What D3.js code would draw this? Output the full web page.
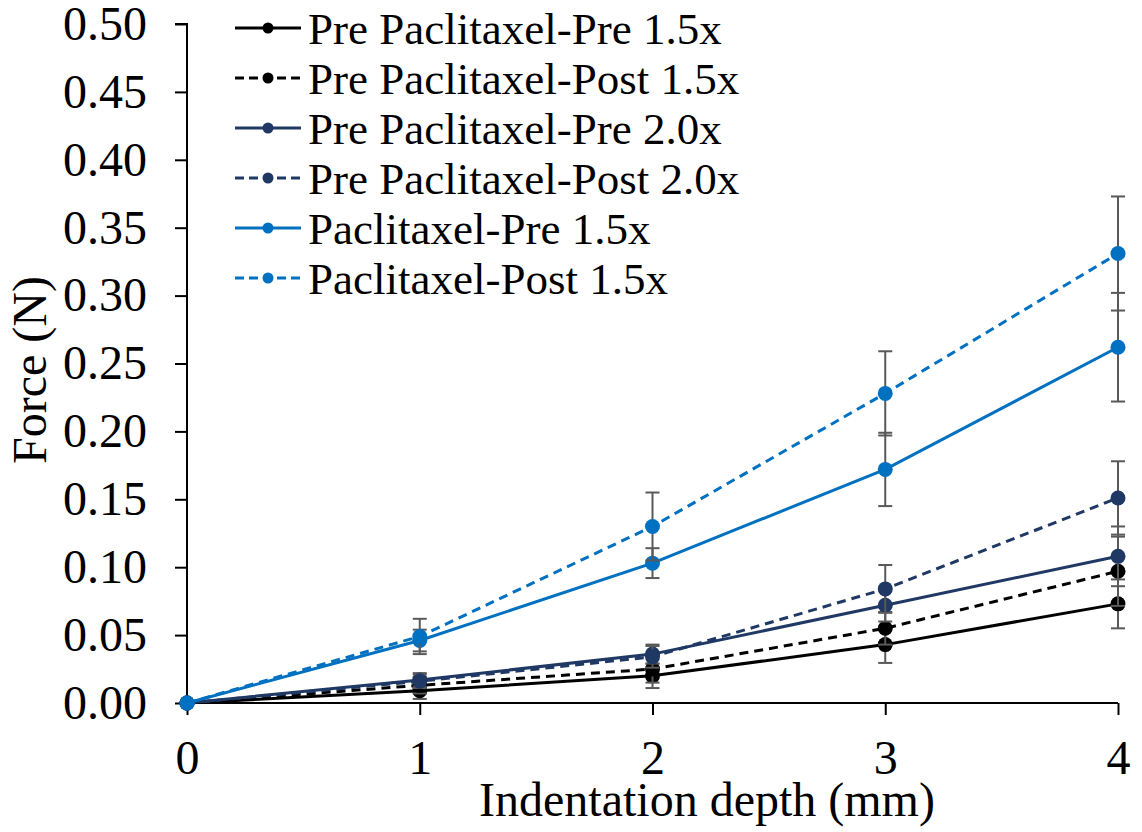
<!DOCTYPE html>
<html><head><meta charset="utf-8">
<script src="https://cdn.jsdelivr.net/npm/d3@7"></script>
<style>body{margin:0;background:#fff}svg{display:block}text{font-family:"Liberation Serif","Times New Roman",serif;fill:#000}</style>
</head><body><svg id="c" width="1142" height="832"></svg>
<script>
const depths = [0, 1, 2, 3, 4];
const seriesNames = ["Pre Paclitaxel-Pre 1.5x","Pre Paclitaxel-Post 1.5x","Pre Paclitaxel-Pre 2.0x","Pre Paclitaxel-Post 2.0x","Paclitaxel-Pre 1.5x","Paclitaxel-Post 1.5x"];
const prePre15  = [0, 0.009, 0.020, 0.043, 0.073];
const prePost15 = [0, 0.013, 0.025, 0.055, 0.097];
const prePre20  = [0, 0.017, 0.036, 0.072, 0.108];
const prePost20 = [0, 0.016, 0.034, 0.084, 0.151];
const pacPre15  = [0, 0.046, 0.103, 0.172, 0.262];
const pacPost15 = [0, 0.049, 0.130, 0.228, 0.331];
const errPrePre15  = [0, 0.006, 0.009, 0.0135, 0.018];
const errPrePost15 = [0, 0.006, 0.010, 0.012, 0.0255];
const errPrePre20  = [0, 0.005, 0.007, 0.012, 0.022];
const errPrePost20 = [0, 0.005, 0.008, 0.0176, 0.027];
const errPacPre15  = [0, 0.008, 0.011, 0.027, 0.040];
const errPacPost15 = [0, 0.013, 0.025, 0.031, 0.042];
const yTicks = [0,0.05,0.10,0.15,0.20,0.25,0.30,0.35,0.40,0.45,0.50];
const xTicks = [0,1,2,3,4];

const series = [
  {name: seriesNames[0], v: prePre15, e: errPrePre15, color: "#000000", dash: null},
  {name: seriesNames[1], v: prePost15, e: errPrePost15, color: "#000000", dash: "9,6"},
  {name: seriesNames[2], v: prePre20, e: errPrePre20, color: "#1f3864", dash: null},
  {name: seriesNames[3], v: prePost20, e: errPrePost20, color: "#1f3864", dash: "9,6"},
  {name: seriesNames[4], v: pacPre15, e: errPacPre15, color: "#0070c0", dash: null},
  {name: seriesNames[5], v: pacPost15, e: errPacPost15, color: "#0070c0", dash: "9,6"}
];

const svg = d3.select("#c");
const x = d3.scaleLinear().domain([0,4]).range([187,1118]);
const y = d3.scaleLinear().domain([0,0.5]).range([703,24]);
const FS = 48, LFS = 45;

// axes
const ya = svg.append("g").attr("transform","translate(187,0)")
  .call(d3.axisLeft(y).tickValues(yTicks).tickFormat(d3.format(".2f")).tickSize(12).tickPadding(28));
ya.select(".domain").attr("stroke","#000").attr("stroke-width",2).attr("d","M-12,24H0V703");
ya.selectAll(".tick line").attr("stroke","#000").attr("stroke-width",2);
ya.selectAll(".tick text").attr("font-size",FS).attr("font-family","Liberation Serif").attr("fill","#000");

const xa = svg.append("g").attr("transform","translate(0,703)")
  .call(d3.axisBottom(x).tickValues(xTicks).tickFormat(d3.format("d")).tickSize(12).tickPadding(25));
xa.select(".domain").attr("stroke","#000").attr("stroke-width",2).attr("d","M187,0H1118");
xa.selectAll(".tick line").attr("stroke","#000").attr("stroke-width",2);
xa.selectAll(".tick text").attr("font-size",FS).attr("font-family","Liberation Serif").attr("fill","#000");

svg.append("text").attr("x",707).attr("y",816).attr("text-anchor","middle").attr("font-size",FS).text("Indentation depth (mm)");
svg.append("text").attr("transform","translate(46,370) rotate(-90)").attr("text-anchor","middle").attr("font-size",FS).text("Force (N)");

// series
const line = d3.line().x((d,i)=>x(depths[i])).y(d=>y(d));
series.forEach(s=>{
  const g = svg.append("g");
  s.v.forEach((v,i)=>{
    if (s.e[i] <= 0) return;
    const cx = x(depths[i]), y1 = y(v + s.e[i]), y0 = y(v - s.e[i]);
    g.append("line").attr("x1",cx).attr("x2",cx).attr("y1",y1).attr("y2",y0).attr("stroke","#595959").attr("stroke-width",2);
    [y1,y0].forEach(yy=>g.append("line").attr("x1",cx-7).attr("x2",cx+7).attr("y1",yy).attr("y2",yy).attr("stroke","#595959").attr("stroke-width",2));
  });
  g.append("path").attr("d",line(s.v)).attr("fill","none").attr("stroke",s.color).attr("stroke-width",3).attr("stroke-dasharray",s.dash);
  g.selectAll("circle").data(s.v).join("circle").attr("cx",(d,i)=>x(depths[i])).attr("cy",d=>y(d)).attr("r",7.5).attr("fill",s.color);
});

// legend
const lg = svg.append("g");
series.forEach((s,i)=>{
  const yy = 28 + i*50;
  lg.append("line").attr("x1",235).attr("x2",301).attr("y1",yy).attr("y2",yy).attr("stroke",s.color).attr("stroke-width",3).attr("stroke-dasharray",s.dash ? "9,5" : null);
  lg.append("circle").attr("cx",268).attr("cy",yy).attr("r",5.5).attr("fill",s.color);
  lg.append("text").attr("x",308).attr("y",yy).attr("dy","0.35em").attr("font-size",LFS).text(s.name);
});
</script></body></html>
